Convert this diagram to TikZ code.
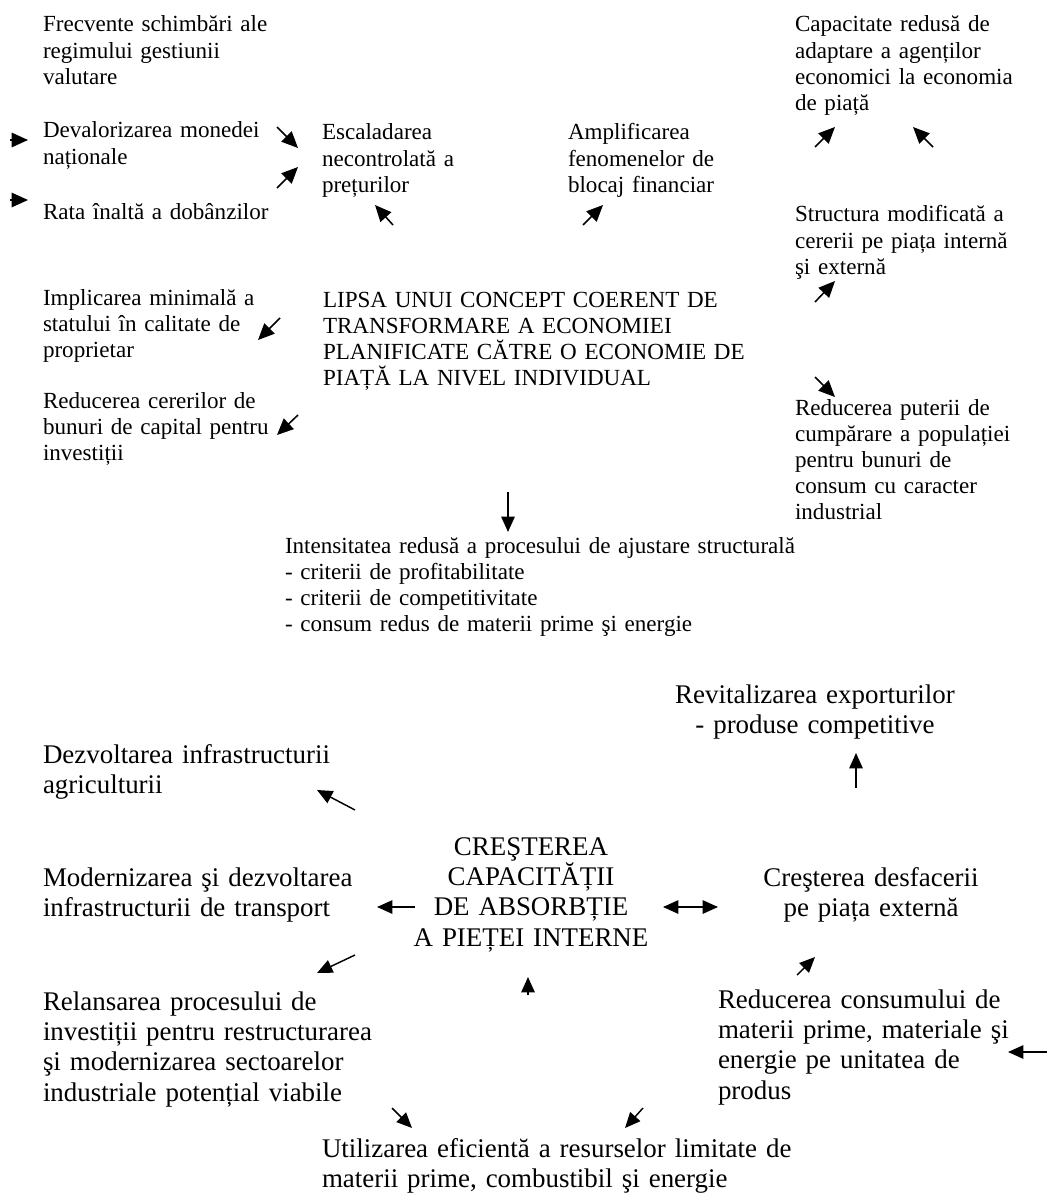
\documentclass[tikz,border=0pt]{standalone}
\usepackage{fontspec}
\setmainfont{Liberation Serif}
\usetikzlibrary{arrows.meta}
\newcommand\fTop{\fontsize{12}{13.6}\selectfont}
\newcommand\fBot{\fontsize{14}{15.8}\selectfont}
\begin{document}
\begin{tikzpicture}[x=0.52pt,y=-0.52pt,
  lt/.style={inner sep=0pt,outer sep=0pt,anchor=base west,text width=12cm,align=left,font=\fTop},
  lb/.style={lt,font=\fBot},
  cb/.style={inner sep=0pt,outer sep=0pt,anchor=base,text width=12cm,align=center,font=\fBot},
  tarr/.style={line width=0.8pt,-{Triangle[length=8.5pt,width=7.5pt]}},
  barr/.style={line width=0.75pt,-{Triangle[length=8pt,width=7pt]}},
  darr/.style={line width=0.75pt,{Triangle[length=8pt,width=7pt]}-{Triangle[length=8pt,width=7pt]}},
]
\useasboundingbox (0,0) rectangle (1047,1196);
% ---------- top part ----------
\node[lt] (A) at (43,32) {Frecvente schimbări ale\\regimului gestiunii\\valutare};
\node[lt] (B) at (43,138) {Devalorizarea monedei\\naționale};
\node[lt] (C) at (43,220) {Rata înaltă a dobânzilor};
\node[lt] (D) at (322,140) {Escaladarea\\necontrolată a\\prețurilor};
\node[lt] (E) at (568,140) {Amplificarea\\fenomenelor de\\blocaj financiar};
\node[lt] (F) at (795,32) {Capacitate redusă de\\adaptare a agenților\\economici la economia\\de piață};
\node[lt] (G) at (795,222) {Structura modificată a\\cererii pe piața internă\\şi externă};
\node[lt] (H) at (43,305) {Implicarea minimală a\\statului în calitate de\\proprietar};
\node[lt] (I) at (323,307) {LIPSA UNUI CONCEPT COERENT DE\\TRANSFORMARE A ECONOMIEI\\PLANIFICATE CĂTRE O ECONOMIE DE\\PIAȚĂ LA NIVEL INDIVIDUAL};
\node[lt] (J) at (43,408) {Reducerea cererilor de\\bunuri de capital pentru\\investiții};
\node[lt] (K) at (795,415) {Reducerea puterii de\\cumpărare a populației\\pentru bunuri de\\consum cu caracter\\industrial};
\node[lt] (L) at (285,553) {Intensitatea redusă a procesului de ajustare structurală\\- criterii de profitabilitate\\- criterii de competitivitate\\- consum redus de materii prime şi energie};
% ---------- bottom part ----------
\node[cb] (M) at (815,703) {Revitalizarea exporturilor\\- produse competitive};
\node[lb] (N) at (43,763) {Dezvoltarea infrastructurii\\agriculturii};
\node[cb] (O) at (531,855) {CREŞTEREA\\CAPACITĂȚII\\DE ABSORBȚIE\\A PIEȚEI INTERNE};
\node[lb] (P) at (43,886) {Modernizarea şi dezvoltarea\\infrastructurii de transport};
\node[cb] (Q) at (871,886) {Creşterea desfacerii\\pe piața externă};
\node[lb] (R) at (43,1010) {Relansarea procesului de\\investiții pentru restructurarea\\şi modernizarea sectoarelor\\industriale potențial viabile};
\node[lb] (S) at (718,1008) {Reducerea consumului de\\materii prime, materiale şi\\energie pe unitatea de\\produs};
\node[lb] (T) at (322,1157) {Utilizarea eficientă a resurselor limitate de\\materii prime, combustibil şi energie};
% ---------- arrow end points ----------
\coordinate (a1s) at (10,140);   \coordinate (a1e) at (28,140);
\coordinate (a2s) at (10,200);   \coordinate (a2e) at (28,200);
\coordinate (a3s) at (277,127);  \coordinate (a3e) at (298,148);
\coordinate (a4s) at (277,188);  \coordinate (a4e) at (298,167);
\coordinate (a5s) at (393,225);  \coordinate (a5e) at (375,205);
\coordinate (a6s) at (583,225);  \coordinate (a6e) at (603,205);
\coordinate (a7s) at (815,147);  \coordinate (a7e) at (835,127);
\coordinate (a8s) at (933,147);  \coordinate (a8e) at (913,127);
\coordinate (a9s) at (815,302);  \coordinate (a9e) at (835,281);
\coordinate (a10s) at (280,318); \coordinate (a10e) at (258,340);
\coordinate (a11s) at (298,415); \coordinate (a11e) at (277,435);
\coordinate (a12s) at (815,377); \coordinate (a12e) at (835,397);
\coordinate (a13s) at (508,492); \coordinate (a13e) at (508,532);
\coordinate (b1s) at (856,788);  \coordinate (b1e) at (856,753);
\coordinate (b2s) at (355,810);  \coordinate (b2e) at (317,790);
\coordinate (b3s) at (415,907);  \coordinate (b3e) at (377,907);
\coordinate (b4s) at (663,907);  \coordinate (b4e) at (718,907);
\coordinate (b5s) at (355,955);  \coordinate (b5e) at (317,973);
\coordinate (b6s) at (528,995);  \coordinate (b6e) at (528,977);
\coordinate (b7s) at (797,975);  \coordinate (b7e) at (815,957);
\coordinate (b8s) at (1047,1052);\coordinate (b8e) at (1008,1052);
\coordinate (b9s) at (392,1108); \coordinate (b9e) at (412,1128);
\coordinate (b10s) at (643,1108);\coordinate (b10e) at (625,1128);
% ---------- arrows ----------
\foreach \i in {1,...,12} {\draw[tarr] (a\i s) -- (a\i e);}
\draw[barr] (a13s) -- (a13e);
\foreach \i in {1,2,3,5,6,7,8,9,10} {\draw[barr] (b\i s) -- (b\i e);}
\draw[darr] (b4s) -- (b4e);
\end{tikzpicture}
\end{document}
